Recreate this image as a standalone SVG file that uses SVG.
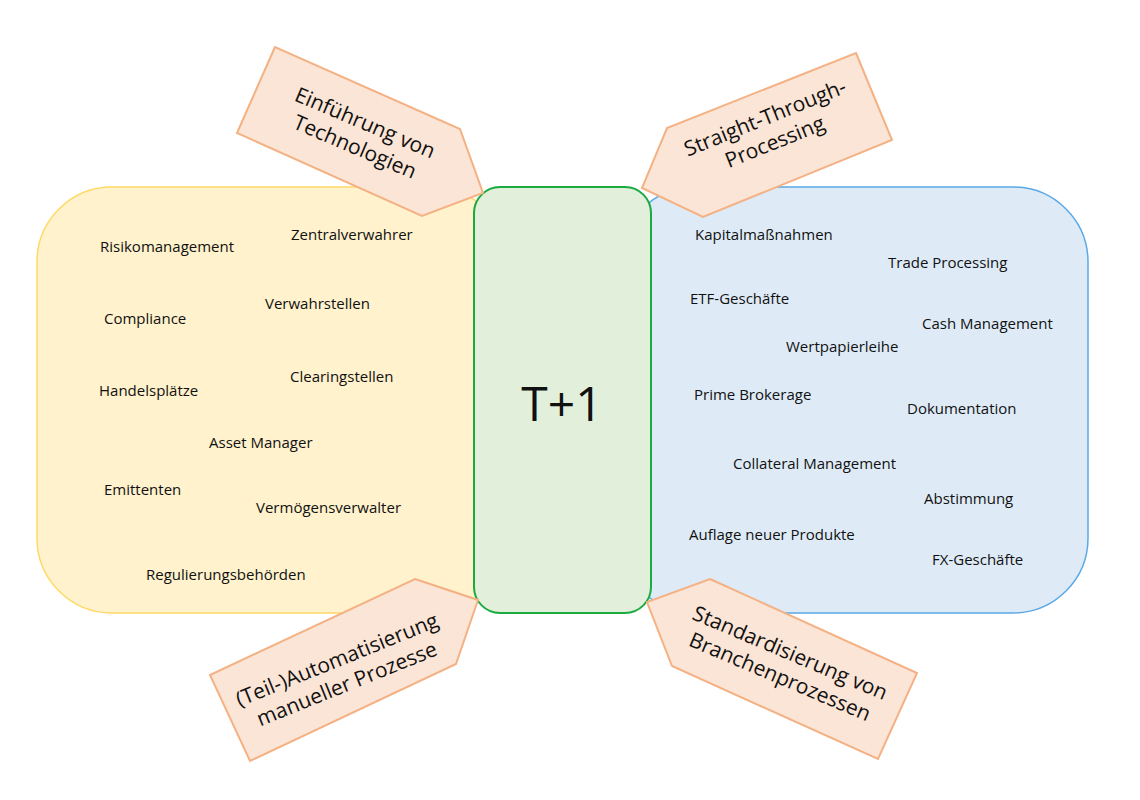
<svg xmlns="http://www.w3.org/2000/svg" width="1140" height="800" viewBox="0 0 1140 800">
<style>
.n{font-family:"Open Sans","Liberation Sans",sans-serif;font-size:15px;fill:#111}
.a{font-family:"Open Sans","Liberation Sans",sans-serif;font-size:21px;fill:#111;text-anchor:middle}
.arr{fill:#fbe5d6;stroke:#f4b183;stroke-width:2}
</style>
<rect width="1140" height="800" fill="#fff"/>
<g id="left"><rect x="37" y="187" width="470" height="426" rx="75" fill="#fff2cc" stroke="#ffd966" stroke-width="1.5"/></g>
<g id="right"><rect x="620" y="187" width="468" height="426" rx="75" fill="#deebf7" stroke="#5aa9e6" stroke-width="1.5"/></g>
<g id="center"><rect x="474" y="187" width="177" height="426" rx="26" fill="#e2efda" stroke="#1aab40" stroke-width="2"/>
<text x="562" y="421" font-family="Open Sans,Liberation Sans,sans-serif" font-size="48" text-anchor="middle" fill="#111">T+1</text></g>
<g id="leftitems" class="n">
<text x="100" y="252">Risikomanagement</text>
<text x="291" y="240">Zentralverwahrer</text>
<text x="104" y="324">Compliance</text>
<text x="265" y="309">Verwahrstellen</text>
<text x="99" y="396">Handelsplätze</text>
<text x="290" y="382">Clearingstellen</text>
<text x="209" y="448">Asset Manager</text>
<text x="104" y="495">Emittenten</text>
<text x="256" y="513">Vermögensverwalter</text>
<text x="146" y="580">Regulierungsbehörden</text>
</g>
<g id="rightitems" class="n">
<text x="695" y="240">Kapitalmaßnahmen</text>
<text x="888" y="268">Trade Processing</text>
<text x="690" y="304">ETF-Geschäfte</text>
<text x="922" y="329">Cash Management</text>
<text x="786" y="352">Wertpapierleihe</text>
<text x="694" y="400">Prime Brokerage</text>
<text x="907" y="414">Dokumentation</text>
<text x="733" y="469">Collateral Management</text>
<text x="924" y="504">Abstimmung</text>
<text x="689" y="540">Auflage neuer Produkte</text>
<text x="932" y="565">FX-Geschäfte</text>
</g>
<g id="arrow-tl"><polygon class="arr" points="275,47 237,133 422,216 483,193 460,129"/>
<text class="a" transform="translate(360,135) rotate(23)"><tspan x="0" y="-6">Einführung von</tspan><tspan x="0" y="20">Technologien</tspan></text></g>
<g id="arrow-tr"><polygon class="arr" points="856,53 892,140 703,217 642,188 667,128"/>
<text class="a" transform="translate(770,130) rotate(-22)"><tspan x="0" y="-6">Straight-Through-</tspan><tspan x="0" y="20">Processing</tspan></text></g>
<g id="arrow-bl"><polygon class="arr" points="415,579 478,600 456,664 250,761 210,675"/>
<text class="a" transform="translate(342,672) rotate(-22)"><tspan x="0" y="-6">(Teil-)Automatisierung</tspan><tspan x="0" y="20">manueller Prozesse</tspan></text></g>
<g id="arrow-br"><polygon class="arr" points="710,579 917,673 878,759 672,666 647,602"/>
<text class="a" transform="translate(785,665) rotate(23)"><tspan x="0" y="-6">Standardisierung von</tspan><tspan x="0" y="20">Branchenprozessen</tspan></text></g>
<g id="connectors"></g>
</svg>
